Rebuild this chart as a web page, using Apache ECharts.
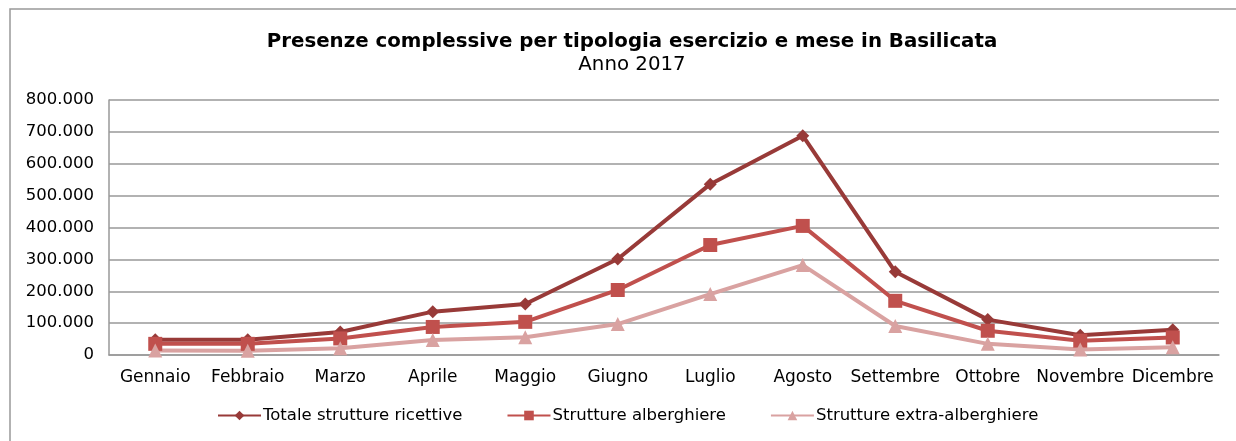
<!DOCTYPE html>
<html>
<head>
<meta charset="utf-8">
<script src="https://cdn.jsdelivr.net/npm/echarts@6/dist/echarts.min.js"></script>
<style>
html, body { margin: 0; padding: 0; background: #fff; }
#chart { width: 1236px; height: 441px; }
</style>
</head>
<body>
<div id="chart"></div>
<script>
// mesi
var mesi = ['Gennaio', 'Febbraio', 'Marzo', 'Aprile', 'Maggio', 'Giugno',
            'Luglio', 'Agosto', 'Settembre', 'Ottobre', 'Novembre', 'Dicembre'];

// presenze (valori stimati)
var totale = [48000, 48000, 72000, 136000, 160000, 301000, 536000, 688000, 261000, 111000, 62000, 79000];
var alberghiere = [35000, 35000, 52000, 88000, 104000, 204000, 345000, 405000, 170000, 76000, 45000, 55000];
var extra = [14000, 13000, 21000, 47000, 56000, 97000, 191000, 282000, 91000, 35000, 17000, 24000];

var nomi = ['Totale strutture ricettive', 'Strutture alberghiere', 'Strutture extra-alberghiere'];
var colori = ['#983A38', '#C0504D', '#D9A2A1'];

var fontName = 'DejaVu Sans';

function migliaia(v) {
    return String(v).replace(/\B(?=(\d{3})+(?!\d))/g, '.');
}

function serie(nome, dati, colore, simbolo, size) {
    return {
        name: nome,
        type: 'line',
        data: dati,
        symbol: simbolo,
        symbolSize: size,
        showAllSymbol: true,
        lineStyle: { width: 4, color: colore },
        itemStyle: { color: colore },
        emphasis: { disabled: true }
    };
}

var chart = echarts.init(document.getElementById('chart'));
var option = {
    animation: false,
    backgroundColor: '#fff',
    textStyle: { fontFamily: fontName },
    graphic: [{
        type: 'rect',
        shape: { x: 10, y: 9, width: 1260, height: 460 },
        style: { fill: 'none', stroke: '#999', lineWidth: 1.5 },
        silent: true
    }],
    title: [{
        text: 'Presenze complessive per tipologia esercizio e mese in Basilicata',
        left: 627, top: 27, textAlign: 'center',
        textStyle: { fontFamily: fontName, fontSize: 19.8, fontWeight: 'bold', color: '#000' }
    }, {
        text: 'Anno 2017',
        left: 627, top: 50, textAlign: 'center',
        textStyle: { fontFamily: fontName, fontSize: 19.8, fontWeight: 'normal', color: '#000' }
    }],
    legend: {
        data: nomi,
        bottom: 12,
        left: 212,
        itemWidth: 43,
        itemHeight: 12,
        itemGap: 44,
        textStyle: { fontFamily: fontName, fontSize: 16.5, color: '#000', padding: [0, 0, 0, -3] }
    },
    grid: { left: 109, right: 17, top: 100, bottom: 86, containLabel: false },
    xAxis: {
        type: 'category',
        data: mesi,
        boundaryGap: true,
        axisLine: { lineStyle: { color: '#999', width: 1.5 } },
        axisTick: { show: false },
        axisLabel: { color: '#000', fontSize: 17, margin: 14, fontFamily: fontName, interval: 0 }
    },
    yAxis: {
        type: 'value',
        min: 0, max: 800000, interval: 100000,
        axisLine: { show: true, lineStyle: { color: '#999', width: 1.5 } },
        axisTick: { show: false },
        splitLine: { lineStyle: { color: '#999', width: 1.5 } },
        axisLabel: { color: '#000', fontSize: 16.5, margin: 15, fontFamily: fontName, formatter: migliaia }
    },
    series: [
        serie(nomi[0], totale, colori[0], 'diamond', 13),
        serie(nomi[1], alberghiere, colori[1], 'rect', 14),
        serie(nomi[2], extra, colori[2], 'triangle', 14)
    ]
};
chart.setOption(option);
</script>
</body>
</html>
